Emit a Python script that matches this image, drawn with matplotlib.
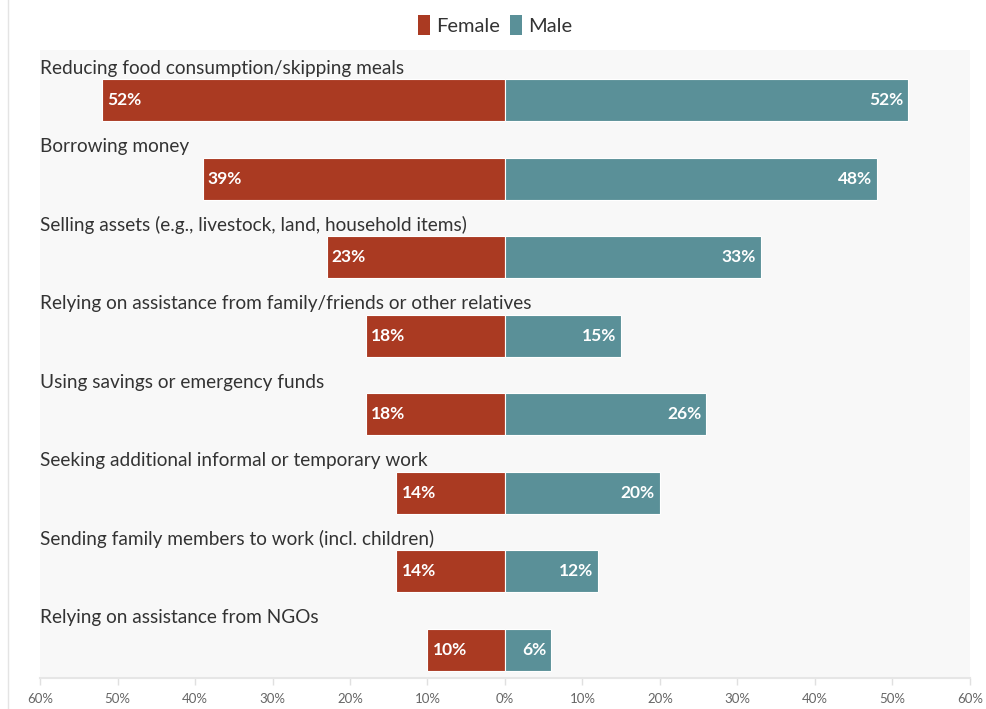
import numpy as np
import matplotlib.pyplot as plt
from matplotlib.lines import Line2D
from matplotlib.patches import Patch

plt.rcParams['font.family'] = ['Lato', 'DejaVu Sans']

categories = [
    "Reducing food consumption/skipping meals",
    "Borrowing money",
    "Selling assets (e.g., livestock, land, household items)",
    "Relying on assistance from family/friends or other relatives",
    "Using savings or emergency funds",
    "Seeking additional informal or temporary work",
    "Sending family members to work (incl. children)",
    "Relying on assistance from NGOs",
]
female = [52, 39, 23, 18, 18, 14, 14, 10]
male = [52, 48, 33, 15, 26, 20, 12, 6]

c_female = '#aa3a22'
c_male = '#5a9098'

fig = plt.figure(figsize=(9.86, 7.09), dpi=100)
ax = fig.add_axes([40 / 986, 1 - 678 / 709, 930 / 986, 628 / 709])
ax.set_facecolor('#f8f8f8')

y = np.arange(len(categories))
h = 0.535
ax.barh(y, [-v for v in female], height=h, color=c_female, edgecolor='white', linewidth=0.8)
ax.barh(y, male, height=h, color=c_male, edgecolor='white', linewidth=0.8)

for i, (f, m) in enumerate(zip(female, male)):
    ax.text(-f + 0.65, i, f"{f}%", color='white', fontsize=12.5, fontweight='bold',
            ha='left', va='center')
    ax.text(m - 0.65, i, f"{m}%", color='white', fontsize=12.5, fontweight='bold',
            ha='right', va='center')
    ax.text(-60, i - 0.41, categories[i], fontsize=13.7, color='#333333',
            ha='left', va='center')

ax.set_xlim(-60, 60)
ax.set_ylim(7.36, -0.64)
ticks = np.arange(-60, 61, 10)
ax.set_xticks(ticks)
ax.set_xticklabels([f"{abs(t)}%" for t in ticks], fontsize=9.5, color='#666666')
ax.set_yticks([])
ax.tick_params(axis='x', length=5, color='#e0e0e0', width=1, pad=6)
for s in ['top', 'right', 'left']:
    ax.spines[s].set_visible(False)
ax.spines['bottom'].set_color('#e6e6e6')
ax.spines['bottom'].set_linewidth(1.5)

handles = [Patch(facecolor=c_female, label='Female'), Patch(facecolor=c_male, label='Male')]
fig.legend(handles=handles, loc='center', bbox_to_anchor=(495 / 986, 1 - 25 / 709), ncol=2,
           frameon=False, fontsize=14.5, handlelength=0.6, handleheight=1.2,
           handletextpad=0.3, columnspacing=0.5, labelcolor='#333333')

fig.add_artist(Line2D([8 / 986, 8 / 986], [0, 1], color='#e4e4e4', linewidth=1))

fig.savefig('out.png', dpi=100)
